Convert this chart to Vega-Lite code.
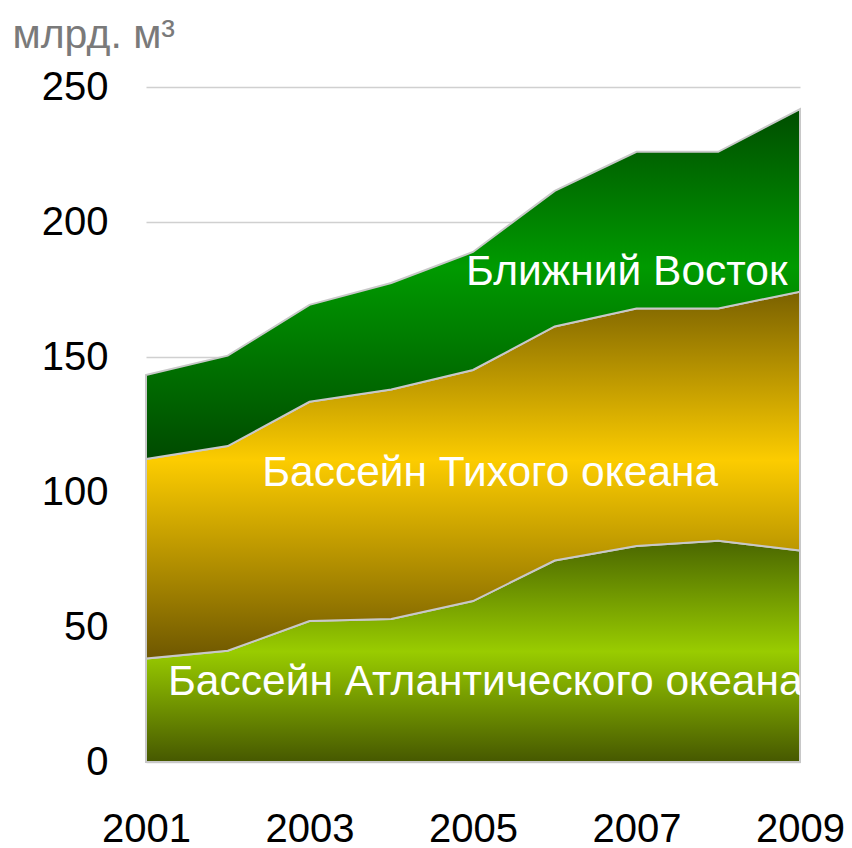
{
  "$schema": "https://vega.github.io/schema/vega-lite/v6.json",
  "width": 654,
  "height": 675,
  "autosize": "none",
  "padding": {"left": 146, "top": 87, "right": 52, "bottom": 86},
  "background": "white",
  "config": {
    "view": {"stroke": null},
    "font": "Liberation Sans",
    "axis": {"labelFont": "Liberation Sans", "titleFont": "Liberation Sans"}
  },
  "layer": [
    {
      "data": {
        "values": [
          {"year": 2001, "series": "Бассейн Атлантического океана", "value": 38.3},
          {"year": 2002, "series": "Бассейн Атлантического океана", "value": 41.2},
          {"year": 2003, "series": "Бассейн Атлантического океана", "value": 52.2},
          {"year": 2004, "series": "Бассейн Атлантического океана", "value": 53},
          {"year": 2005, "series": "Бассейн Атлантического океана", "value": 59.6},
          {"year": 2006, "series": "Бассейн Атлантического океана", "value": 74.6},
          {"year": 2007, "series": "Бассейн Атлантического океана", "value": 80},
          {"year": 2008, "series": "Бассейн Атлантического океана", "value": 81.9},
          {"year": 2009, "series": "Бассейн Атлантического океана", "value": 78.3},
          {"year": 2001, "series": "Бассейн Тихого океана", "value": 73.9},
          {"year": 2002, "series": "Бассейн Тихого океана", "value": 75.8},
          {"year": 2003, "series": "Бассейн Тихого океана", "value": 81.2},
          {"year": 2004, "series": "Бассейн Тихого океана", "value": 85},
          {"year": 2005, "series": "Бассейн Тихого океана", "value": 85.6},
          {"year": 2006, "series": "Бассейн Тихого океана", "value": 86.7},
          {"year": 2007, "series": "Бассейн Тихого океана", "value": 88},
          {"year": 2008, "series": "Бассейн Тихого океана", "value": 86.1},
          {"year": 2009, "series": "Бассейн Тихого океана", "value": 95.9},
          {"year": 2001, "series": "Ближний Восток", "value": 31.1},
          {"year": 2002, "series": "Ближний Восток", "value": 33.5},
          {"year": 2003, "series": "Ближний Восток", "value": 35.9},
          {"year": 2004, "series": "Ближний Восток", "value": 39.4},
          {"year": 2005, "series": "Ближний Восток", "value": 43.7},
          {"year": 2006, "series": "Ближний Восток", "value": 50.2},
          {"year": 2007, "series": "Ближний Восток", "value": 58},
          {"year": 2008, "series": "Ближний Восток", "value": 58},
          {"year": 2009, "series": "Ближний Восток", "value": 67.6}
        ]
      },
      "transform": [
        {"stack": "value", "groupby": ["year"], "sort": [{"field": "series", "order": "ascending"}], "as": ["y0", "y1"]}
      ],
      "encoding": {
        "x": {
          "field": "year",
          "type": "quantitative",
          "scale": {"domain": [2001, 2009], "nice": false, "zero": false},
          "axis": {
            "values": [2001, 2003, 2005, 2007, 2009],
            "format": "d",
            "title": null,
            "grid": false,
            "domain": false,
            "ticks": false,
            "labelFlush": false,
            "labelFontSize": 40,
            "labelColor": "#000000",
            "labelPadding": 47
          }
        },
        "y": {
          "field": "y1",
          "type": "quantitative",
          "scale": {"domain": [0, 250], "nice": false},
          "axis": {
            "values": [0, 50, 100, 150, 200, 250],
            "title": "млрд. м³",
            "titleAngle": 0,
            "titleAlign": "left",
            "titleBaseline": "alphabetic",
            "titleX": -134,
            "titleY": -40,
            "titleFontSize": 41,
            "titleFontWeight": "normal",
            "titleColor": "#7a7a7a",
            "grid": true,
            "gridColor": "#d0d0d0",
            "gridWidth": 1.5,
            "domain": false,
            "ticks": false,
            "labelFontSize": 40,
            "labelColor": "#000000",
            "labelPadding": 38
          }
        },
        "y2": {"field": "y0"}
      },
      "layer": [
        {
          "transform": [{"filter": "datum.series === 'Бассейн Атлантического океана'"}],
          "mark": {
            "type": "area",
            "stroke": "#c8c8c8",
            "strokeWidth": 2,
            "color": {
              "gradient": "linear", "x1": 0, "y1": 0, "x2": 0, "y2": 1,
              "stops": [
                {"offset": 0, "color": "#4a6600"},
                {"offset": 0.5, "color": "#99cc00"},
                {"offset": 1, "color": "#465800"}
              ]
            }
          }
        },
        {
          "transform": [{"filter": "datum.series === 'Бассейн Тихого океана'"}],
          "mark": {
            "type": "area",
            "stroke": "#c8c8c8",
            "strokeWidth": 2,
            "color": {
              "gradient": "linear", "x1": 0, "y1": 0, "x2": 0, "y2": 1,
              "stops": [
                {"offset": 0, "color": "#7a6100"},
                {"offset": 0.46, "color": "#fccc00"},
                {"offset": 1, "color": "#6e5700"}
              ]
            }
          }
        },
        {
          "transform": [{"filter": "datum.series === 'Ближний Восток'"}],
          "mark": {
            "type": "area",
            "stroke": "#c8c8c8",
            "strokeWidth": 2,
            "color": {
              "gradient": "linear", "x1": 0, "y1": 0, "x2": 0, "y2": 1,
              "stops": [
                {"offset": 0, "color": "#004d00"},
                {"offset": 0.45, "color": "#009a00"},
                {"offset": 1, "color": "#004a00"}
              ]
            }
          }
        }
      ]
    },
    {
      "data": {"values": [{"label": "Ближний Восток"}]},
      "mark": {"type": "text", "color": "white", "fontSize": 42.5, "align": "center", "baseline": "alphabetic", "font": "Liberation Sans"},
      "encoding": {
        "x": {"datum": 2006.88, "type": "quantitative"},
        "y": {"datum": 176.7, "type": "quantitative"},
        "text": {"field": "label"}
      }
    },
    {
      "data": {"values": [{"label": "Бассейн Тихого океана"}]},
      "mark": {"type": "text", "color": "white", "fontSize": 42.5, "align": "center", "baseline": "alphabetic", "font": "Liberation Sans"},
      "encoding": {
        "x": {"datum": 2005.21, "type": "quantitative"},
        "y": {"datum": 102.2, "type": "quantitative"},
        "text": {"field": "label"}
      }
    },
    {
      "data": {"values": [{"label": "Бассейн Атлантического океана"}]},
      "mark": {"type": "text", "color": "white", "fontSize": 42.5, "align": "center", "baseline": "alphabetic", "font": "Liberation Sans", "clip": true},
      "encoding": {
        "x": {"datum": 2005.15, "type": "quantitative"},
        "y": {"datum": 24.8, "type": "quantitative"},
        "text": {"field": "label"}
      }
    }
  ]
}
